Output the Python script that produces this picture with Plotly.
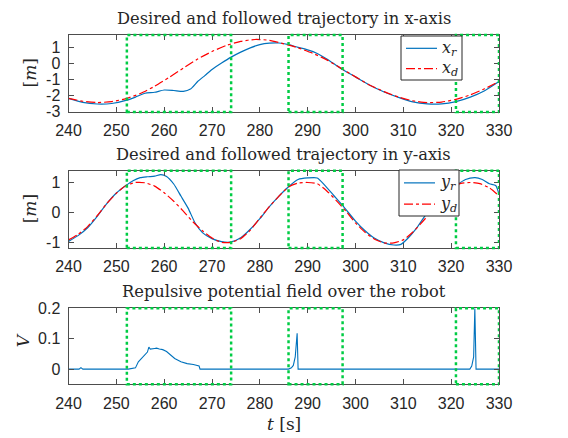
import plotly.graph_objects as go

# ---------------- data ----------------
t_xd = [240, 243, 246, 249, 252, 255, 258, 261, 264, 267, 270, 273, 276, 279, 282, 285, 288, 291,
        294, 297, 300, 303, 306, 309, 312, 315, 318, 321, 324, 327, 330]
x_d = [-2.2, -2.38, -2.46, -2.4, -2.22, -1.9, -1.45, -0.9, -0.32, 0.25, 0.72, 1.1, 1.35, 1.47, 1.42,
       1.2, 0.95, 0.62, 0.2, -0.33, -0.86, -1.38, -1.78, -2.12, -2.35, -2.46, -2.43, -2.26, -1.98, -1.6, -1.15]

t_xr = [240, 243, 246, 249, 252, 254, 256, 258, 260, 262, 264, 265.5, 267, 268.5, 270, 272, 274, 276,
        278, 280, 282, 284, 286, 288, 290, 292, 294, 297, 300, 303, 306, 309, 312, 315, 318, 321, 324, 327, 330]
x_r = [-2.2, -2.45, -2.55, -2.52, -2.33, -2.12, -1.88, -1.82, -1.68, -1.71, -1.76, -1.62, -1.15, -0.78,
       -0.4, 0.0, 0.37, 0.68, 0.95, 1.15, 1.24, 1.25, 1.15, 0.98, 0.82, 0.6, 0.26, -0.35, -0.86, -1.38,
       -1.8, -2.14, -2.42, -2.54, -2.54, -2.4, -2.12, -1.72, -1.15]

t_yd = [240, 242, 244, 246, 248, 250, 252, 254, 256, 258, 260, 262, 264, 266, 268, 270, 272, 274, 276,
        278, 280, 282, 284, 286, 288, 290, 292, 294, 296, 298, 300, 302, 304, 306, 308, 310, 312, 314,
        316, 318, 320, 322, 324, 326, 328, 330]
y_d = [-0.9, -0.72, -0.46, -0.1, 0.3, 0.64, 0.9, 1.0, 0.99, 0.88, 0.66, 0.38, 0.05, -0.3, -0.6, -0.84,
       -0.98, -0.98, -0.86, -0.58, -0.18, 0.2, 0.55, 0.85, 0.98, 1.0, 0.96, 0.72, 0.4, 0.05, -0.34, -0.65,
       -0.88, -1.0, -1.0, -0.9, -0.64, -0.3, 0.06, 0.48, 0.82, 0.97, 1.0, 0.96, 0.82, 0.56]

t_yr = [240, 242, 244, 246, 248, 250, 252, 253.5, 255, 256.5, 258, 259.3, 260.5, 262, 263.5, 265, 266.5,
        268, 270, 272, 274, 276, 278, 280, 282, 284, 286, 288, 290, 292, 293.5, 295.5, 297.5, 300, 302,
        304, 306, 308, 309.5, 311, 313, 315, 317, 319, 321, 323, 325, 326.5, 328, 329.3, 330]
y_r = [-0.95, -0.76, -0.5, -0.12, 0.3, 0.65, 0.9, 1.06, 1.16, 1.19, 1.21, 1.26, 1.2, 0.95, 0.55, 0.15,
       -0.35, -0.66, -0.86, -0.96, -0.97, -0.83, -0.55, -0.2, 0.2, 0.55, 0.86, 1.1, 1.15, 1.15, 0.92,
       0.56, 0.2, -0.28, -0.6, -0.85, -1.0, -1.07, -1.05, -0.84, -0.46, 0.0, 0.38, 0.66, 0.9, 1.1, 1.16,
       1.1, 0.96, 0.9, 0.62]

t_v = [240, 242.2, 242.6, 243.0, 252.5, 253.5, 254.0, 254.6, 255.5, 256.5, 256.8, 257.1, 258.0, 258.4,
       259.0, 259.7, 260.5, 261.0, 262.2, 263.5, 264.8, 266.1, 267.0, 267.3, 267.5, 286.0, 286.6, 287.0,
       287.4, 287.8, 288.0, 323.9, 324.3, 324.7, 324.95, 325.2, 330]
v = [0, 0, 0.005, 0, 0, 0.003, 0.004, 0.024, 0.04, 0.056, 0.072, 0.066, 0.068, 0.069, 0.066, 0.064,
     0.058, 0.051, 0.035, 0.024, 0.018, 0.015, 0.012, 0.01, 0, 0, 0.004, 0.012, 0.04, 0.118, 0, 0, 0.01,
     0.04, 0.2, 0, 0]

boxes = [(252.2, 274.0), (286.0, 297.3), (321.0, 330.0)]
x_ticks = [240, 250, 260, 270, 280, 290, 300, 310, 320, 330]

titles = ["Desired and followed trajectory in x-axis",
          "Desired and followed trajectory in y-axis",
          "Repulsive potential field over the robot"]
legend_names = [("<i>x<sub>r</sub></i>", "<i>x<sub>d</sub></i>"),
                ("<i>y<sub>r</sub></i>", "<i>y<sub>d</sub></i>")]

# ---------------- figure ----------------
# the page body has an 8px margin, so the figure starts at (8, 8) in the window
OFF = 8
W, H = 568 - OFF, 438 - OFF
BLUE = "#0072BD"
RED = "#FF0000"
GREEN = "#00CC44"
AX = "#4d4d4d"
TXT = "#262626"
SERIF = "DejaVu Serif"
SANS = "Liberation Sans"

def px(x):
    return (x - OFF) / W

def py(y):
    return 1 - (y - OFF) / H

L, R = 68.5, 499.0
panels = [(35, 112), (170.7, 248), (308.3, 384.3)]

fig = go.Figure()
fig.add_trace(go.Scatter(x=t_xr, y=x_r, mode="lines", line=dict(color=BLUE, width=1.2, shape="spline", smoothing=0.6),
                         name="x_r", showlegend=False, xaxis="x", yaxis="y"))
fig.add_trace(go.Scatter(x=t_xd, y=x_d, mode="lines", line=dict(color=RED, width=1.2, dash="dashdot", shape="spline", smoothing=0.6),
                         name="x_d", showlegend=False, xaxis="x", yaxis="y"))
fig.add_trace(go.Scatter(x=t_yr, y=y_r, mode="lines", line=dict(color=BLUE, width=1.2, shape="spline", smoothing=0.6),
                         name="y_r", showlegend=False, xaxis="x2", yaxis="y2"))
fig.add_trace(go.Scatter(x=t_yd, y=y_d, mode="lines", line=dict(color=RED, width=1.2, dash="dashdot", shape="spline", smoothing=0.6),
                         name="y_d", showlegend=False, xaxis="x2", yaxis="y2"))
fig.add_trace(go.Scatter(x=t_v, y=v, mode="lines", line=dict(color=BLUE, width=1.1),
                         name="V", showlegend=False, xaxis="x3", yaxis="y3"))

common_x = dict(range=[240, 330], tickvals=x_ticks, ticktext=[str(t) for t in x_ticks],
                showline=True, linecolor=AX, linewidth=1, mirror="allticks", ticks="inside",
                ticklen=5, tickcolor=AX, showgrid=False, zeroline=False, automargin=False,
                ticklabelstandoff=4,
                tickfont=dict(family=SANS, size=16, color=TXT), domain=[px(L), px(R)])
common_y = dict(showline=True, linecolor=AX, linewidth=1, mirror="allticks", ticks="inside",
                ticklen=5, tickcolor=AX, showgrid=False, zeroline=False, automargin=False,
                ticklabelstandoff=4,
                tickfont=dict(family=SANS, size=16, color=TXT))

layout = dict(width=W, height=H, margin=dict(l=0, r=0, t=0, b=0),
              paper_bgcolor="white", plot_bgcolor="white", showlegend=False)
for i, (top, bot) in enumerate(panels):
    sfx = "" if i == 0 else str(i + 1)
    layout["xaxis" + sfx] = dict(common_x, anchor="y" + sfx)
    layout["yaxis" + sfx] = dict(common_y, anchor="x" + sfx, domain=[py(bot), py(top)])

layout["yaxis"].update(range=[-3.05, 1.75], tickvals=[-3, -2, -1, 0, 1], ticktext=["-3", "-2", "-1", "0", "1"])
layout["yaxis2"].update(range=[-1.17, 1.39], tickvals=[-1, 0, 1], ticktext=["-1", "0", "1"])
layout["yaxis3"].update(range=[-0.05, 0.2], tickvals=[0, 0.1, 0.2], ticktext=["0", "0.1", "0.2"])
fig.update_layout(**layout)

# titles
title_y = [18, 154, 291]
for ty, txt in zip(title_y, titles):
    fig.add_annotation(x=px((L + R) / 2), y=py(ty), xref="paper", yref="paper", text=txt, showarrow=False,
                       font=dict(family=SERIF, size=16.3, color=TXT), xanchor="center", yanchor="middle")

# axis labels
lab = dict(xref="paper", yref="paper", showarrow=False, xanchor="center", yanchor="middle",
           font=dict(family=SERIF, size=17, color=TXT))
fig.add_annotation(x=px(30), y=py((35 + 112) / 2), text="[<i>m</i>]", textangle=-90, **lab)
fig.add_annotation(x=px(30), y=py((170.7 + 248) / 2), text="[<i>m</i>]", textangle=-90, **lab)
fig.add_annotation(x=px(23), y=py((308.3 + 384.3) / 2 - 6), text="<i>V</i>", textangle=-90, **lab)
fig.add_annotation(x=px((L + R) / 2), y=py(424), text="<i>t</i> [s]", **lab)

# green dotted boxes
for i in range(3):
    sfx = "" if i == 0 else str(i + 1)
    for x0, x1 in boxes:
        fig.add_shape(type="rect", xref="x" + sfx, yref="y" + sfx + " domain", x0=x0, x1=x1, y0=0, y1=1,
                      line=dict(color=GREEN, width=2.5, dash="dot"), layer="above")

# legends (boxes with line samples and labels)
legend_boxes = [(401, 36, 462, 80), (399, 170, 459, 216)]
for (bx0, by0, bx1, by1), names in zip(legend_boxes, legend_names):
    fig.add_shape(type="rect", xref="paper", yref="paper", x0=px(bx0), x1=px(bx1), y0=py(by1), y1=py(by0),
                  line=dict(color=TXT, width=1), fillcolor="white", layer="above")
    rows = [by0 + (by1 - by0) * 0.28, by0 + (by1 - by0) * 0.74]
    for ry, name, col, dash in zip(rows, names, [BLUE, RED], ["solid", "dashdot"]):
        fig.add_shape(type="line", xref="paper", yref="paper", x0=px(bx0 + 5), x1=px(bx0 + 36),
                      y0=py(ry), y1=py(ry), line=dict(color=col, width=1.2, dash=dash), layer="above")
        fig.add_annotation(x=px(bx0 + 39), y=py(ry), text=name, xanchor="left", yanchor="middle",
                           xref="paper", yref="paper", showarrow=False,
                           font=dict(family=SERIF, size=16, color=TXT))

fig.write_html("out.html")
